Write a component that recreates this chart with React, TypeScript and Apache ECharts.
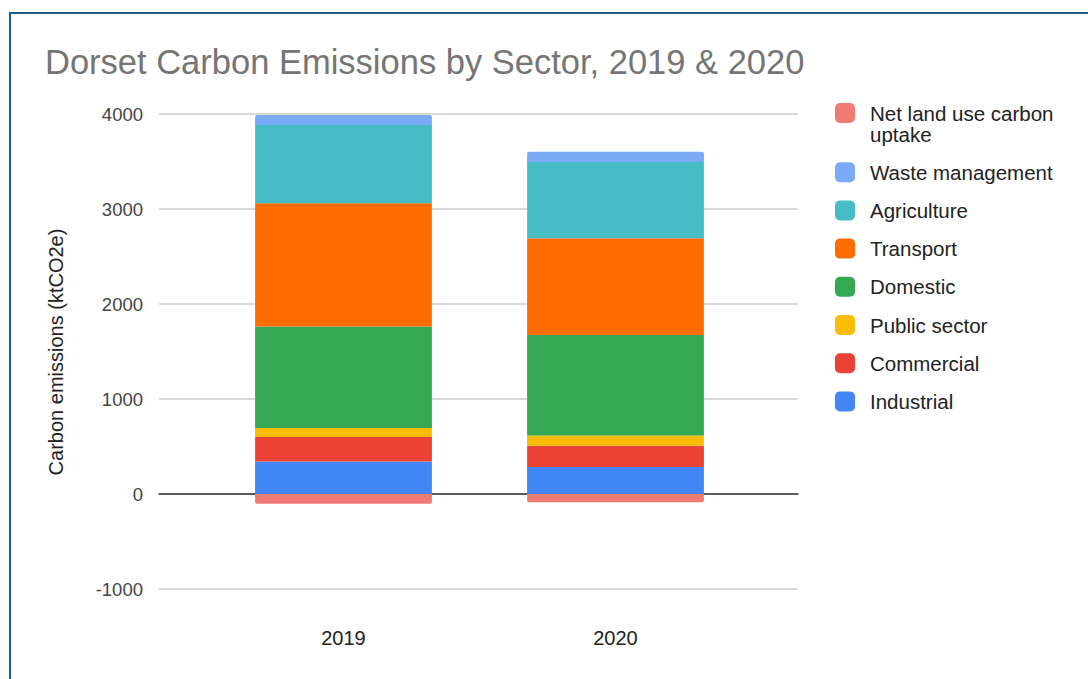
import React, { useEffect, useRef } from "react";
import * as echarts from "echarts";

const categories = ["2019", "2020"];
const industrial = [343, 284];
const commercial = [257, 224];
const publicSector = [94, 108];
const domestic = [1069, 1059];
const transport = [1298, 1017];
const agriculture = [823, 803];
const waste = [105, 108];
const netLand = [-102, -88];

const seriesNames = [
  "Industrial",
  "Commercial",
  "Public sector",
  "Domestic",
  "Transport",
  "Agriculture",
  "Waste management",
  "Net land use carbon uptake",
];
const seriesValues = [industrial, commercial, publicSector, domestic, transport, agriculture, waste, netLand];
const seriesColors = ["#4285f4", "#ea4335", "#fbbc04", "#34a853", "#ff6d01", "#46bdc6", "#7baaf7", "#f07b72"];
const legendOrder = [
  "Net land use carbon uptake",
  "Waste management",
  "Agriculture",
  "Transport",
  "Domestic",
  "Public sector",
  "Commercial",
  "Industrial",
];
const yTicks = { min: -1000, max: 4000, interval: 1000 };

const FONT = "Arial, 'Liberation Sans', sans-serif";

export default function App() {
  const ref = useRef<HTMLDivElement>(null);
  useEffect(() => {
    document.body.style.margin = "0";
    if (!ref.current) return;
    const chart = echarts.init(ref.current, null, { renderer: "svg" });
    const option: any = {
      animation: false,
      backgroundColor: "#ffffff",
      textStyle: { fontFamily: FONT },
      title: {
        text: "Dorset Carbon Emissions by Sector, 2019 & 2020",
        left: 45,
        top: 44,
        padding: 0,
        textStyle: { fontSize: 34.5, fontWeight: "normal", color: "#757575", fontFamily: FONT },
      },
      legend: {
        orient: "vertical",
        left: 835,
        top: 81.5,
        padding: 0,
        itemWidth: 20,
        itemHeight: 20,
        itemGap: 17.2,
        icon: "roundRect",
        selectedMode: false,
        formatter: (n: string) => (n === "Net land use carbon uptake" ? "\nNet land use carbon\nuptake" : n),
        textStyle: { fontSize: 20.5, color: "#222222", lineHeight: 21, padding: [0, 0, 0, 10], fontFamily: FONT },
        data: legendOrder,
      },
      grid: [
        { left: 159, right: 290, top: 114, bottom: 90 },
        { left: 207.5, right: 336.5, top: 114, bottom: 90 },
      ],
      xAxis: [
        {
          type: "category",
          gridIndex: 0,
          data: categories,
          axisLine: { show: true, onZero: true, lineStyle: { color: "#333333", width: 1.5 } },
          axisTick: { show: false },
          axisLabel: { show: false },
          splitLine: { show: false },
        },
        {
          type: "category",
          gridIndex: 1,
          data: categories,
          axisLine: { show: false, onZero: false },
          axisTick: { show: false },
          axisLabel: { fontSize: 20, color: "#222222", margin: 39, fontFamily: FONT },
        },
      ],
      yAxis: [
        {
          type: "value",
          gridIndex: 0,
          min: yTicks.min,
          max: yTicks.max,
          interval: yTicks.interval,
          axisLine: { show: false },
          axisTick: { show: false },
          axisLabel: {
            fontSize: 18.5,
            color: "#444444",
            margin: 16,
            fontFamily: FONT,
            formatter: (v: number) => String(v),
          },
          splitLine: { show: true, lineStyle: { color: "#cccccc", width: 1.5 } },
        },
        {
          type: "value",
          gridIndex: 1,
          min: yTicks.min,
          max: yTicks.max,
          interval: yTicks.interval,
          show: false,
          splitLine: { show: false },
        },
      ],
      series: seriesNames.map((name, i) => ({
        name,
        type: "bar",
        stack: "total",
        xAxisIndex: 1,
        yAxisIndex: 1,
        barWidth: "65%",
        data: seriesValues[i],
        itemStyle: {
          color: seriesColors[i],
          borderRadius: name === "Waste management" ? [2, 2, 0, 0] : name === "Net land use carbon uptake" ? [0, 0, 2, 2] : 0,
        },
        emphasis: { disabled: true },
      })),
      graphic: [
        { type: "rect", left: 9, top: 12, shape: { width: 1079, height: 2 }, style: { fill: "#1b5e8c" }, z: 100 },
        { type: "rect", left: 9, top: 12, shape: { width: 2, height: 667 }, style: { fill: "#1b5e8c" }, z: 100 },
        {
          type: "text",
          x: 56,
          y: 352,
          rotation: Math.PI / 2,
          style: {
            text: "Carbon emissions (ktCO2e)",
            fontSize: 20,
            fill: "#222222",
            align: "center",
            verticalAlign: "middle",
            fontFamily: FONT,
          },
        },
      ],
    };
    chart.setOption(option);
    return () => chart.dispose();
  }, []);
  return <div ref={ref} style={{ width: 1088, height: 679 }} />;
}
